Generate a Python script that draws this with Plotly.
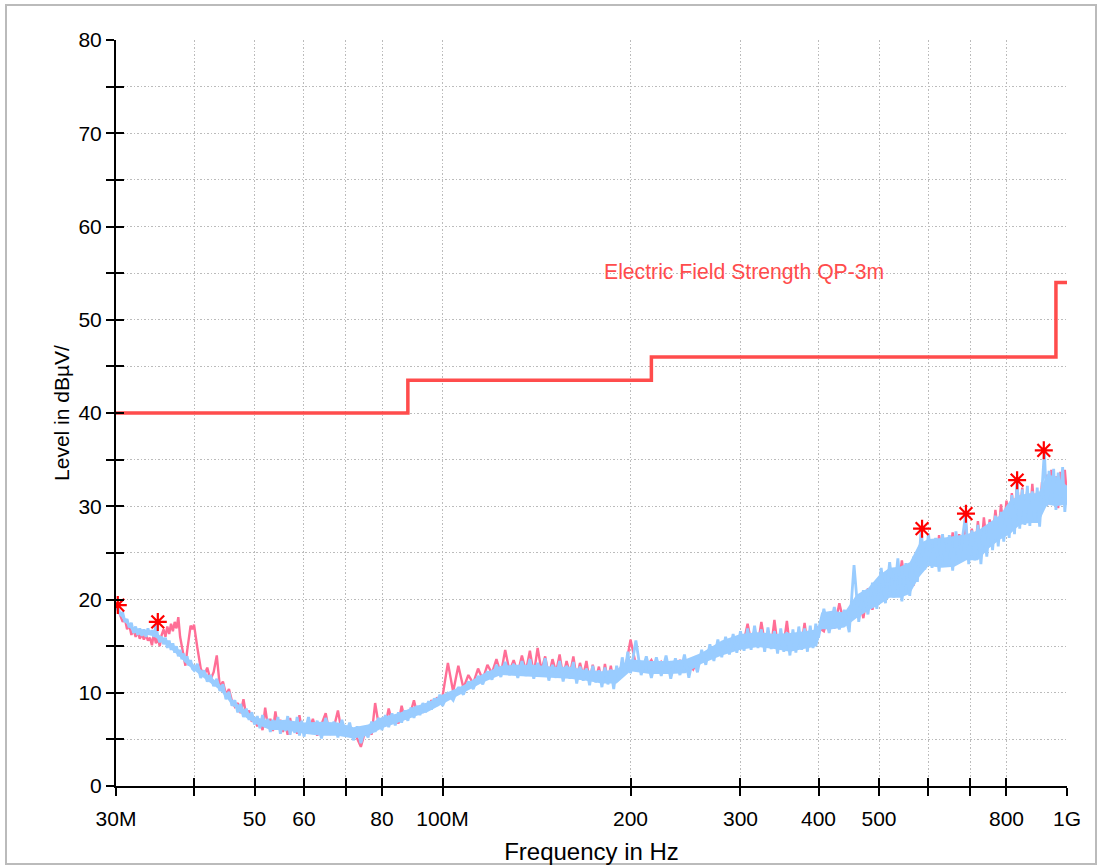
import plotly.graph_objects as go

# ---------------- data (frequency in MHz, level in dBuV/m) ----------------
freq_a = [30.0, 30.25, 30.5, 30.75, 31.0, 31.25, 31.5, 31.75, 32.0, 32.25, 32.5, 32.75, 33.0, 33.25, 33.5, 33.75,
          34.0, 34.25, 34.5, 34.75, 35.0, 35.25, 35.5, 35.75, 36.0, 36.25, 36.5, 36.75, 37.0, 37.25, 37.5, 37.75,
          38.0, 38.25, 38.5, 38.75, 39.0, 39.25, 39.5, 39.75]
freq_b = [40, 40.5, 41, 41.5, 42, 42.5, 43, 43.5, 44, 44.5, 45, 45.5, 46, 46.5, 47, 47.5, 48, 48.5, 49, 49.5,
          50, 50.5, 51, 51.5, 52, 52.5, 53, 53.5, 54, 54.5, 55, 55.5, 56, 56.5, 57, 57.5, 58, 58.5, 59, 59.5]
freq_c = [60, 61, 62, 63, 64, 65, 66, 67, 68, 69, 70, 71, 72, 73, 74, 75, 76, 77, 78, 79,
          80, 81, 82, 83, 84, 85, 86, 87, 88, 89, 90, 91, 92, 93, 94, 95, 96, 97, 98, 99]
freq_d = [100, 102, 104, 106, 108, 110, 112, 114, 116, 118, 120, 122, 124, 126, 128, 130, 132, 134, 136, 138,
          140, 142, 144, 146, 148, 150, 152, 154, 156, 158, 160, 162, 164, 166, 168, 170, 172, 174, 176, 178,
          180, 182, 184, 186, 188, 190, 192, 194, 196, 198]
freq_e = [200, 204, 208, 212, 216, 220, 224, 228, 232, 236, 240, 244, 248, 252, 256, 260, 264, 268, 272, 276,
          280, 284, 288, 292, 296, 300, 304, 308, 312, 316, 320, 324, 328, 332, 336, 340, 344, 348, 352, 356,
          360, 364, 368, 372, 376, 380, 384, 388, 392, 396]
freq_f = [400, 408, 416, 424, 432, 440, 448, 456, 464, 472, 480, 488, 496, 504, 512, 520, 528, 536, 544, 552,
          560, 568, 576, 584, 592, 600, 608, 616, 624, 632, 640, 648, 656, 664, 672, 680, 688, 696, 704, 712,
          720, 728, 736, 744, 752, 760, 768, 776, 784, 792, 800, 808, 816, 824, 832, 840, 848, 856, 864, 872,
          880, 888, 896, 904, 912, 920, 928, 936, 944, 952, 960, 968, 976, 984, 992, 1000]

blue_a = [19.3, 19.0, 18.4, 18.6, 17.6, 17.9, 17.0, 17.5, 16.4, 17.1, 16.2, 16.9, 16.1, 16.8, 16.0, 16.9,
          16.2, 16.7, 16.0, 17.3, 16.1, 15.4, 16.0, 15.2, 15.9, 14.8, 15.6, 14.6, 15.3, 14.3, 15.0, 13.9,
          14.6, 13.6, 14.2, 13.3, 13.9, 12.9, 13.5, 12.6]
blue_b = [12.4, 13.1, 11.6, 12.4, 11.2, 11.9, 10.7, 11.5, 10.2, 10.9, 9.3, 10.1, 8.6, 9.2, 7.9, 8.8, 7.4, 8.3, 7.1, 7.9,
          6.6, 7.5, 6.2, 7.6, 6.3, 7.2, 5.8, 7.1, 6.1, 7.4, 5.6, 6.9, 5.9, 7.5, 5.5, 6.8, 5.7, 7.4, 5.4, 7.0]
blue_c = [5.3, 7.4, 5.6, 7.0, 5.1, 7.3, 5.7, 6.9, 5.2, 7.1, 5.5, 6.8, 4.9, 6.4, 4.6, 6.0, 5.2, 6.9, 5.8, 7.3,
          6.0, 7.6, 6.3, 7.8, 6.5, 7.9, 6.8, 8.1, 7.0, 8.4, 7.3, 8.6, 7.6, 8.9, 7.9, 9.1, 8.2, 9.4, 8.6, 9.8]
blue_d = [8.6, 9.9, 9.2, 10.6, 9.8, 11.2, 10.4, 11.8, 10.9, 12.3, 11.4, 13.0, 11.7, 13.3, 11.9, 13.1, 11.6, 13.4, 11.8, 13.6,
          11.5, 13.2, 11.9, 13.7, 11.3, 13.0, 11.6, 13.4, 11.2, 12.9, 11.5, 13.3, 11.0, 12.8, 11.3, 12.6, 10.8, 12.9, 11.1, 12.4,
          10.6, 12.7, 10.9, 12.5, 10.4, 12.9, 11.6, 13.8, 12.2, 14.4]
blue_e = [12.1, 15.6, 11.9, 13.9, 11.6, 13.8, 11.8, 14.0, 11.5, 13.7, 11.9, 14.1, 11.6, 13.8, 12.2, 14.6, 13.0, 15.2, 13.4, 15.7,
          13.8, 16.0, 14.1, 16.3, 14.3, 16.6, 14.5, 16.9, 14.6, 17.2, 14.8, 16.8, 14.4, 17.0, 14.7, 16.6, 14.2, 16.9, 14.4, 16.5,
          14.0, 16.8, 14.3, 17.1, 14.6, 16.9, 14.4, 17.2, 14.8, 17.4]
blue_f = [15.9, 19.0, 16.4, 19.2, 16.8, 18.9, 16.5, 23.7, 17.6, 21.0, 18.4, 21.8, 19.0, 23.4, 19.6, 24.0, 20.2, 24.4, 19.8, 23.9,
          20.4, 24.6, 21.9, 27.4, 23.2, 27.1, 23.4, 26.6, 23.0, 27.0, 23.5, 26.9, 23.1, 27.3, 24.0, 26.6, 29.1, 23.8, 27.4, 24.2,
          28.0, 23.8, 27.7, 24.6, 28.3, 25.3, 29.0, 25.7, 29.4, 26.2, 29.8, 26.6, 31.2, 27.0, 32.6, 27.6, 31.8, 28.0, 32.2, 27.9,
          31.6, 28.3, 32.0, 27.8, 31.9, 35.9, 30.0, 33.8, 30.4, 34.0, 29.6, 33.6, 30.8, 34.2, 29.4, 32.2]

pink_a = [19.5, 18.8, 18.2, 17.6, 17.9, 16.8, 17.3, 16.2, 16.8, 16.0, 16.5, 15.8, 16.3, 15.7, 16.2, 15.6,
          15.9, 15.1, 16.4, 15.3, 15.9, 15.0, 16.2, 16.8, 16.0, 17.1, 16.3, 17.4, 16.6, 17.6, 16.9, 18.1,
          16.0, 14.8, 13.9, 12.9, 14.5, 16.2, 17.2, 16.8]
pink_b = [17.3, 14.8, 12.6, 11.8, 12.7, 11.4, 12.2, 14.0, 10.6, 11.2, 9.8, 10.4, 9.1, 8.5, 8.9, 7.8, 9.3, 7.5, 8.1, 6.9,
          7.3, 6.4, 7.0, 6.0, 8.4, 6.5, 7.2, 5.9, 8.0, 6.2, 7.1, 5.8, 6.6, 5.5, 7.3, 6.0, 6.8, 5.6, 7.6, 6.1]
pink_c = [6.4, 5.8, 7.2, 5.4, 6.6, 7.8, 5.5, 6.3, 8.1, 5.7, 6.4, 5.3, 6.0, 5.1, 4.2, 5.6, 6.4, 5.5, 8.9, 6.6,
          7.2, 6.5, 8.3, 6.9, 7.4, 6.7, 8.6, 7.2, 7.7, 8.0, 9.2, 7.8, 8.3, 8.0, 8.8, 8.4, 9.2, 8.7, 9.5, 9.1]
pink_d = [9.6, 13.2, 10.1, 12.9, 10.5, 11.9, 11.0, 12.6, 11.4, 13.0, 12.1, 13.6, 12.0, 14.6, 12.3, 13.5, 12.1, 14.0, 12.3, 14.5,
          12.0, 14.8, 12.4, 13.9, 11.8, 13.6, 12.2, 14.1, 11.7, 13.4, 12.0, 13.9, 11.5, 13.2, 11.8, 13.4, 11.2, 13.0, 11.5, 12.8,
          11.0, 13.1, 11.2, 12.9, 10.8, 12.5, 12.0, 13.4, 12.6, 14.0]
pink_e = [15.7, 13.0, 12.6, 12.8, 13.5, 12.4, 13.3, 12.6, 13.2, 12.4, 13.5, 12.7, 13.1, 12.5, 13.4, 13.9, 14.3, 14.5, 14.1, 15.1,
          14.6, 15.4, 15.0, 16.0, 15.2, 16.2, 15.6, 17.4, 15.5, 16.7, 15.2, 17.6, 15.4, 16.4, 15.0, 17.8, 15.1, 16.3, 15.3, 17.7,
          14.9, 16.2, 15.0, 16.6, 15.3, 17.5, 15.1, 16.6, 15.4, 17.0]
pink_f = [17.0, 16.6, 18.6, 16.9, 19.6, 17.3, 18.8, 18.2, 20.1, 18.0, 21.2, 18.9, 21.6, 20.0, 22.8, 20.5, 23.2, 21.0, 24.2, 20.8,
          23.5, 21.5, 25.0, 23.6, 26.0, 24.0, 26.3, 23.8, 26.9, 24.2, 26.4, 24.0, 27.2, 24.6, 27.0, 25.0, 28.5, 24.8, 27.6, 25.2,
          28.4, 25.0, 28.8, 26.0, 28.6, 26.4, 29.6, 26.8, 30.2, 27.2, 30.6, 28.0, 31.4, 28.6, 32.6, 28.8, 32.0, 29.0, 31.8, 28.6,
          32.4, 29.2, 31.6, 28.9, 32.6, 30.6, 33.4, 30.2, 33.9, 30.6, 33.2, 29.8, 33.7, 30.4, 33.9, 31.0]

# dense core of the blue (peak) trace, read as lower / upper edge of the solid band
core_freq = [30, 31, 32, 33, 34, 35, 36, 37, 38, 39, 40, 42, 44, 46, 48, 50, 53, 56, 60, 64, 68, 72, 76, 80, 85, 90, 95,
             100, 108, 116, 124, 132, 140, 150, 160, 170, 180, 190, 200, 215, 230, 245, 260, 280, 300, 320, 340, 360,
             380, 398, 404, 420, 440, 460, 480, 500, 520, 540, 560, 580, 600, 630, 660, 690, 720, 750, 780, 810, 840,
             870, 900, 930, 960, 1000]
core_lo = [18.9, 17.6, 16.5, 16.2, 16.2, 15.8, 15.2, 14.5, 13.8, 13.0, 12.4, 11.3, 10.3, 8.7, 7.5, 6.7, 6.0, 6.0, 5.6, 5.4,
           5.4, 5.1, 5.4, 6.2, 6.8, 7.4, 8.0, 8.8, 10.0, 11.1, 11.9, 11.8, 11.7, 11.6, 11.5, 11.3, 11.0, 11.0, 12.3, 12.0,
           12.0, 12.1, 13.1, 14.0, 14.6, 14.9, 14.7, 14.4, 14.7, 15.0, 16.8, 16.8, 17.0, 18.0, 18.8, 19.4, 20.2, 20.2, 20.6,
           22.4, 23.6, 23.4, 23.5, 24.2, 24.2, 25.5, 26.4, 27.0, 28.0, 28.2, 28.2, 30.2, 30.0, 30.2]
core_hi = [19.2, 18.0, 17.0, 16.8, 16.7, 16.3, 15.8, 15.2, 14.5, 13.8, 13.0, 12.0, 10.9, 9.3, 8.3, 7.4, 7.0, 7.1, 6.8, 6.9,
           6.8, 6.3, 6.6, 7.4, 7.8, 8.5, 9.0, 9.8, 10.8, 12.0, 12.9, 13.0, 13.0, 12.8, 12.8, 12.4, 12.3, 12.5, 13.6, 13.4,
           13.4, 13.6, 14.3, 15.6, 16.3, 16.5, 16.3, 16.4, 16.6, 16.8, 18.6, 18.8, 18.6, 20.5, 21.2, 22.6, 23.4, 23.5, 24.0,
           26.0, 26.5, 26.6, 26.8, 27.0, 27.4, 28.2, 29.0, 30.6, 31.2, 31.4, 31.4, 33.4, 33.2, 32.2]

limit_freq = [30, 88, 216, 960, 1000]
limit_level = [40, 43.5, 46, 54, 54]
limit_name = "Electric Field Strength QP-3m"

peak_freq = [30.2, 35.0, 586, 689, 832, 918]
peak_level = [19.4, 17.6, 27.6, 29.2, 32.8, 36.0]

x_tickvals = [30, 40, 50, 60, 70, 80, 100, 200, 300, 400, 500, 600, 700, 800, 1000]
x_ticktext = ["30M", "", "50", "60", "", "80", "100M", "200", "300", "400", "500", "", "", "800", "1G"]
y_tickvals = [0, 5, 10, 15, 20, 25, 30, 35, 40, 45, 50, 55, 60, 65, 70, 75, 80]
y_ticktext = ["0", "", "10", "", "20", "", "30", "", "40", "", "50", "", "60", "", "70", "", "80"]

freq = freq_a + freq_b + freq_c + freq_d + freq_e + freq_f
blue = blue_a + blue_b + blue_c + blue_d + blue_e + blue_f
pink = pink_a + pink_b + pink_c + pink_d + pink_e + pink_f

FONT = "Liberation Sans, Arial, sans-serif"
BLUE = "#99CCFF"
PINK = "#FF6E96"
LIMIT = "#FF4C4C"

fig = go.Figure()
fig.add_trace(go.Scatter(x=freq, y=pink, mode="lines", line=dict(color=PINK, width=2.4), hoverinfo="skip"))
fig.add_trace(go.Scatter(x=core_freq, y=core_lo, mode="lines", line=dict(color=BLUE, width=0), hoverinfo="skip"))
fig.add_trace(go.Scatter(x=core_freq, y=core_hi, mode="lines", line=dict(color=BLUE, width=0),
                         fill="tonexty", fillcolor=BLUE, hoverinfo="skip"))
fig.add_trace(go.Scatter(x=freq, y=blue, mode="lines", line=dict(color=BLUE, width=2.8), hoverinfo="skip"))
fig.add_trace(go.Scatter(x=limit_freq, y=limit_level, mode="lines", line=dict(color=LIMIT, width=3.5, shape="hv"),
                         hoverinfo="skip"))
fig.add_trace(go.Scatter(x=peak_freq, y=peak_level, mode="markers",
                         marker=dict(symbol="asterisk-open", size=15, color="#FF0000",
                                     line=dict(color="#FF0000", width=2.2)), hoverinfo="skip"))
# invisible trace hosting the overlay axes (inner half of the crossing ticks)
fig.add_trace(go.Scatter(x=[30], y=[0], xaxis="x2", yaxis="y2", mode="markers",
                         marker=dict(opacity=0), hoverinfo="skip"))

fig.add_annotation(x=2.2553, y=55.1, xref="x", yref="y", text=limit_name, showarrow=False,
                   xanchor="left", yanchor="middle", font=dict(family=FONT, size=21.2, color=LIMIT))

xr = [1.4771213, 3.0]
GRID = dict(showgrid=True, gridcolor="#BBBBBB", griddash="1.5px,2px", gridwidth=1.3)
fig.update_layout(
    width=1097, height=867,
    margin=dict(l=116, r=30, t=40, b=81),
    paper_bgcolor="white", plot_bgcolor="white",
    showlegend=False,
    font=dict(family=FONT, size=21, color="black"),
    xaxis=dict(type="log", range=xr, tickvals=x_tickvals, ticktext=x_ticktext, automargin=False,
               ticks="outside", ticklen=8, tickwidth=2, tickcolor="black",
               showline=True, linecolor="black", linewidth=2,
               zeroline=False, tickfont=dict(size=21), ticklabelstandoff=5,
               title=dict(text="Frequency in Hz", font=dict(size=24), standoff=14), **GRID),
    yaxis=dict(range=[0, 80], tickvals=y_tickvals, ticktext=y_ticktext, automargin=False,
               ticks="outside", ticklen=8, tickwidth=2, tickcolor="black",
               showline=True, linecolor="black", linewidth=2,
               zeroline=False, tickfont=dict(size=21),
               title=dict(text="Level in dBµV/", font=dict(size=21), standoff=3), **GRID),
    xaxis2=dict(type="log", range=xr, overlaying="x", anchor="y2", tickvals=x_tickvals, automargin=False,
                ticks="inside", ticklen=8, tickwidth=2, tickcolor="black",
                showticklabels=False, showgrid=False, showline=False, zeroline=False),
    yaxis2=dict(range=[0, 80], overlaying="y", anchor="x2", side="left", tickvals=y_tickvals, automargin=False,
                ticks="inside", ticklen=8, tickwidth=2, tickcolor="black",
                showticklabels=False, showgrid=False, showline=False, zeroline=False),
    shapes=[dict(type="rect", xref="paper", yref="paper",
                 x0=(6 - 116) / 951, x1=(1096 - 116) / 951,
                 y0=(786 - 864) / 746, y1=(786 - 5) / 746,
                 line=dict(color="#BBBBBB", width=2), fillcolor="rgba(0,0,0,0)", layer="below")],
)

fig.write_html("out.html", config={"displayModeBar": False},
               post_script="document.body.style.margin='0';")
